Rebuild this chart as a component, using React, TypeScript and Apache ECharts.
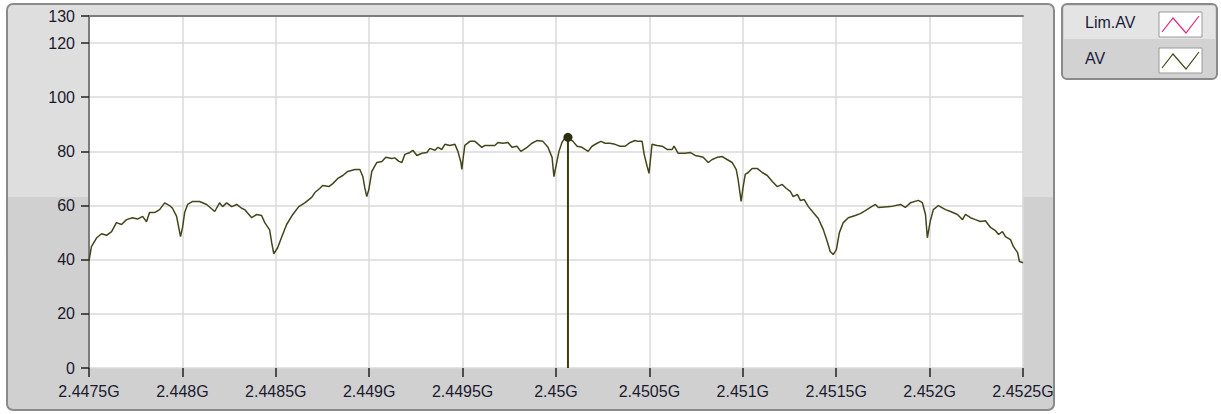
import React, { useEffect, useRef } from "react";
import * as echarts from "echarts";

// Frequency (MHz) and level of the AV trace
const freqMHz = [
  2447.5, 2447.513, 2447.54, 2447.567, 2447.594, 2447.621, 2447.647, 2447.674, 2447.701, 2447.733,
  2447.76, 2447.787, 2447.808, 2447.824, 2447.851, 2447.878, 2447.905, 2447.931, 2447.947, 2447.969,
  2447.98, 2447.99, 2448.001, 2448.012, 2448.028, 2448.055, 2448.092, 2448.13, 2448.173, 2448.199,
  2448.215, 2448.237, 2448.264, 2448.291, 2448.317, 2448.333, 2448.371, 2448.398, 2448.424, 2448.441,
  2448.467, 2448.478, 2448.489, 2448.51, 2448.532, 2448.558, 2448.591, 2448.623, 2448.655, 2448.692,
  2448.709, 2448.735, 2448.751, 2448.784, 2448.805, 2448.832, 2448.859, 2448.885, 2448.923, 2448.95,
  2448.966, 2448.976, 2448.987, 2448.998, 2449.014, 2449.041, 2449.068, 2449.089, 2449.121, 2449.137,
  2449.159, 2449.175, 2449.191, 2449.218, 2449.234, 2449.255, 2449.282, 2449.309, 2449.325, 2449.352,
  2449.368, 2449.389, 2449.405, 2449.432, 2449.459, 2449.475, 2449.491, 2449.496, 2449.502, 2449.512,
  2449.539, 2449.566, 2449.603, 2449.62, 2449.646, 2449.673, 2449.689, 2449.716, 2449.743, 2449.764,
  2449.791, 2449.812, 2449.845, 2449.871, 2449.898, 2449.93, 2449.957, 2449.979, 2449.989, 2450.005,
  2450.016, 2450.032, 2450.048, 2450.064, 2450.091, 2450.113, 2450.139, 2450.172, 2450.193, 2450.22,
  2450.241, 2450.263, 2450.289, 2450.316, 2450.343, 2450.37, 2450.397, 2450.423, 2450.44, 2450.461,
  2450.472, 2450.488, 2450.498, 2450.514, 2450.541, 2450.568, 2450.595, 2450.622, 2450.632, 2450.654,
  2450.691, 2450.718, 2450.745, 2450.772, 2450.788, 2450.815, 2450.836, 2450.863, 2450.89, 2450.916,
  2450.943, 2450.965, 2450.975, 2450.991, 2451.002, 2451.013, 2451.029, 2451.05, 2451.077, 2451.104,
  2451.131, 2451.158, 2451.184, 2451.211, 2451.233, 2451.254, 2451.27, 2451.292, 2451.308, 2451.329,
  2451.351, 2451.377, 2451.404, 2451.431, 2451.452, 2451.468, 2451.484, 2451.501, 2451.517, 2451.538,
  2451.565, 2451.602, 2451.629, 2451.656, 2451.683, 2451.71, 2451.726, 2451.79, 2451.844, 2451.87,
  2451.897, 2451.94, 2451.961, 2451.978, 2451.988, 2452.004, 2452.02, 2452.047, 2452.085, 2452.112,
  2452.149, 2452.176, 2452.192, 2452.219, 2452.245, 2452.272, 2452.299, 2452.326, 2452.353, 2452.369,
  2452.39, 2452.406, 2452.433, 2452.449, 2452.471, 2452.481, 2452.5,
];

const avLevel = [
  39.6, 44.8, 48, 49.6, 49, 50.4, 53.7, 53, 54.8, 55.5,
  55, 56, 54, 57.4, 57.4, 58.5, 61, 60, 59, 56,
  52, 48.5, 52, 57.4, 60.4, 61.5, 61.5, 60.4, 57.8, 61,
  59.6, 61, 59.6, 60.4, 59, 58.5, 55.5, 56.7, 56.3, 53.7,
  51, 46.3, 42.2, 44.4, 48.5, 53, 56.7, 59.6, 61, 63,
  64.8, 66.3, 67.4, 67, 68.1, 70, 71.1, 72.6, 73.3, 73.3,
  70.7, 66.7, 63.3, 65.9, 72.6, 75.9, 76.3, 77.8, 77.4, 77.6,
  76.3, 75.9, 78.9, 79.6, 80.4, 78.5, 79.3, 79.6, 81.1, 80.4,
  81.5, 80.7, 82.6, 82.2, 82.6, 80, 75.9, 73.3, 77, 82.2,
  83.7, 83.7, 81.5, 82.2, 82.2, 82.2, 83.3, 83, 83.3, 81.5,
  81.9, 80, 81.5, 83, 84, 83.7, 81.5, 77.8, 70.7, 76.3,
  80, 83.3, 85, 85.2, 83.7, 81.9, 81.5, 80, 81.9, 83,
  83.7, 83, 83, 82.6, 81.9, 81.9, 83.3, 84, 83.7, 83.7,
  78.9, 74.4, 71.9, 82.6, 82.2, 81.9, 80.7, 80.7, 81.9, 79.3,
  79.3, 79.6, 78.5, 78.1, 77.8, 75.9, 77, 77.8, 78.1, 77,
  75.9, 73.3, 69.6, 61.5, 67, 71.5, 72.2, 73.7, 73.7, 72.2,
  71.1, 68.9, 67, 67.8, 66.3, 65.2, 63.3, 64.1, 61.9, 62.2,
  59.6, 57.4, 55.2, 51.1, 46.7, 43, 41.9, 43.7, 50, 53.7,
  55.5, 56.3, 57, 58.1, 59.3, 60.4, 59.3, 59.6, 60.4, 59.3,
  61, 61.9, 61.1, 56.7, 48.1, 54.4, 58.5, 60, 58.5, 57.8,
  56.7, 54.8, 56.7, 55.5, 54.8, 54.1, 54.4, 51.9, 50.7, 49.3,
  50.4, 48.5, 47.4, 44.8, 42.6, 39.3, 38.9,
];

const xTicksMHz = { min: 2447.5, max: 2452.5, step: 0.5 };
const yTicks = { min: 0, max: 130, step: 20 };
const legendNames = ["Lim.AV", "AV"];
const legendColors = ["#e0287f", "#45451c"];

const FONT = "'Liberation Sans', Arial, sans-serif";

export default function App() {
  const ref = useRef<HTMLDivElement>(null);
  useEffect(() => {
    if (!ref.current) return;
    const chart = echarts.init(ref.current, undefined, { renderer: "svg" });
    const avData = freqMHz.map((f, i) => [f, avLevel[i]]);
    let peakIdx = 0;
    avLevel.forEach((v, i) => {
      if (v > avLevel[peakIdx]) peakIdx = i;
    });
    const cursorData = [
      [freqMHz[peakIdx], yTicks.min],
      [freqMHz[peakIdx], avLevel[peakIdx]],
    ];

    const legendRow = (i: number) => {
      const y0 = 4 + i * 36;
      return [
        {
          type: "text",
          z: 5,
          style: {
            x: 1085,
            y: y0 + 18,
            text: legendNames[i],
            font: `16px ${FONT}`,
            fill: "#1c1c3a",
            verticalAlign: "middle",
          },
        },
        {
          type: "rect",
          z: 5,
          shape: { x: 1159, y: y0 + 8, width: 43, height: 25 },
          style: { fill: "#ffffff", stroke: "#9a9a9a", lineWidth: 1 },
        },
        {
          type: "polyline",
          z: 6,
          shape: {
            points: [
              [1162, y0 + 28],
              [1173, y0 + 14],
              [1186, y0 + 29],
              [1199, y0 + 12],
            ],
          },
          style: { stroke: legendColors[i], lineWidth: 1.2, fill: null },
        },
      ];
    };

    chart.setOption({
      animation: false,
      textStyle: { fontFamily: FONT },
      graphic: {
        elements: [
          {
            type: "rect",
            z: -10,
            shape: { x: 7, y: 4, width: 1047, height: 406, r: 6 },
            style: {
              fill: new echarts.graphic.LinearGradient(0, 0, 0, 1, [
                { offset: 0, color: "#dedede" },
                { offset: 0.475, color: "#dedede" },
                { offset: 0.476, color: "#d0d0d0" },
                { offset: 1, color: "#d0d0d0" },
              ]),
              stroke: "#8a8a8a",
              lineWidth: 2,
            },
          },
          {
            type: "rect",
            z: -10,
            shape: { x: 1062, y: 4, width: 155, height: 75, r: 5 },
            style: { fill: "#d2d2d2", stroke: "#8a8a8a", lineWidth: 2 },
          },
          {
            type: "rect",
            z: -9,
            shape: { x: 1064, y: 6, width: 151, height: 33 },
            style: { fill: "#e4e4e4" },
          },
          ...legendRow(0),
          ...legendRow(1),
        ],
      },
      grid: {
        left: 89,
        right: 198,
        top: 16,
        bottom: 46,
        show: true,
        backgroundColor: "#ffffff",
        borderWidth: 0,
      },
      xAxis: [
        {
          type: "value",
          min: xTicksMHz.min,
          max: xTicksMHz.max,
          interval: xTicksMHz.step,
          axisLine: { show: false },
          axisTick: { show: true, length: 9, lineStyle: { color: "#222", width: 1.5 } },
          axisLabel: {
            margin: 15,
            fontSize: 16,
            color: "#1a1a2e",
            fontFamily: FONT,
            hideOverlap: false,
            showMinLabel: true,
            showMaxLabel: true,
            formatter: (v: number) => parseFloat((v / 1000).toFixed(5)) + "G",
          },
          splitLine: { show: true, lineStyle: { color: "#dadada", width: 1.5 } },
        },
        {
          type: "value",
          position: "top",
          min: xTicksMHz.min,
          max: xTicksMHz.max,
          interval: xTicksMHz.step,
          axisLine: { show: true, lineStyle: { color: "#7c7c7c", width: 2 } },
          axisTick: { show: false },
          axisLabel: { show: false },
          splitLine: { show: false },
        },
      ],
      yAxis: {
        type: "value",
        min: yTicks.min,
        max: yTicks.max,
        interval: yTicks.step,
        axisLine: { show: true, lineStyle: { color: "#7c7c7c", width: 2 } },
        axisTick: { show: true, length: 8, lineStyle: { color: "#222", width: 1.5 } },
        axisLabel: { margin: 14, fontSize: 16, color: "#1a1a2e", fontFamily: FONT },
        splitLine: { show: true, lineStyle: { color: "#dadada", width: 1.5 } },
      },
      series: [
        {
          name: "AV",
          type: "line",
          data: avData,
          showSymbol: false,
          symbol: "none",
          lineStyle: { color: "#45451c", width: 1.5 },
          clip: true,
          z: 3,
        },
        {
          name: "cursor",
          type: "line",
          data: cursorData,
          symbol: "circle",
          symbolSize: (_v: any, p: any) => (p.dataIndex === 1 ? 9 : 0),
          itemStyle: { color: "#2e2e10" },
          lineStyle: { color: "#3a3a14", width: 2 },
          z: 4,
        },
      ],
    });
    return () => chart.dispose();
  }, []);
  return (
    <div
      ref={ref}
      style={{ position: "absolute", left: 0, top: 0, width: 1221, height: 414 }}
    />
  );
}
